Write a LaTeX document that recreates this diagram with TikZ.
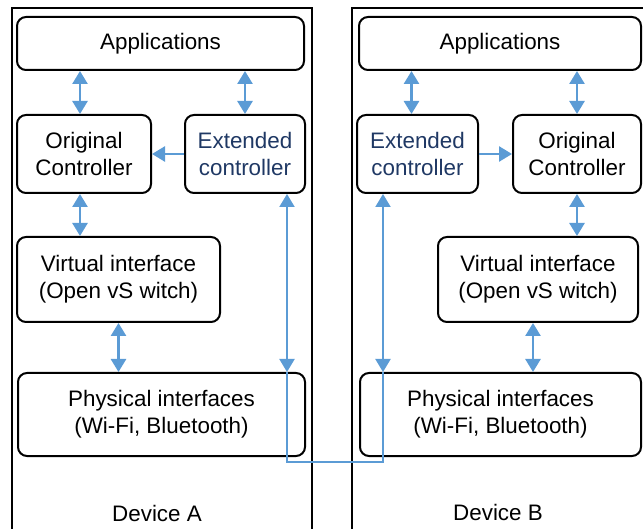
\documentclass[tikz,border=0pt]{standalone}
\usepackage{fontspec}
\setmainfont{Liberation Sans}
\usetikzlibrary{arrows.meta}

\definecolor{arrowblue}{HTML}{5B9BD5}
\definecolor{navy}{HTML}{1F3864}

\begin{document}
\begin{tikzpicture}[x=0.5pt,y=-0.5pt,>={Triangle[width=7.5pt,length=6.5pt]}]
  \tikzset{every node/.style={font=\fontsize{11.2}{13.5}\selectfont},
    layer/.style={draw,line width=1pt,rounded corners=4.5pt,align=center,inner sep=0pt},
    ext/.style={layer,text=navy},
    arr/.style={arrowblue,line width=1.3pt,<->},
    link/.style={arrowblue,line width=1pt},
    device/.style={draw,line width=0.75pt}}
  \clip (0,0) rectangle (643,529);
  % device frames
  \draw[device] (12,540) -- (12,8) -- (312,8) -- (312,540);
  \draw[device] (352,540) -- (352,8) -- (660,8) -- (660,540);
  \node (devA) at (157,513) {Device A};
  \node (devB) at (498,512) {Device B};
  % device A
  \node[layer,minimum width=143.5pt,minimum height=26.5pt] (appA) at (160.5,43.5) {Applications};
  \node[layer,minimum width=67pt,minimum height=39pt] (origA) at (84,154) {Original\\Controller};
  \node[ext,minimum width=60pt,minimum height=39pt] (extA) at (245,154) {Extended\\controller};
  \node[layer,minimum width=101.5pt,minimum height=42.5pt] (virtA) at (118.5,279.5) {Virtual interface\\(Open vS witch)};
  \node[layer,minimum width=143.5pt,minimum height=41.5pt] (phyA) at (161.5,414.5) {Physical interfaces\\(Wi-Fi, Bluetooth)};
  % device B
  \node[layer,minimum width=141pt,minimum height=26.5pt] (appB) at (500,43.5) {Applications};
  \node[ext,minimum width=60.5pt,minimum height=39pt] (extB) at (417.5,154) {Extended\\controller};
  \node[layer,minimum width=64pt,minimum height=39pt] (origB) at (577,154) {Original\\Controller};
  \node[layer,minimum width=100pt,minimum height=42.5pt] (virtB) at (538,279.5) {Virtual interface\\(Open vS witch)};
  \node[layer,minimum width=140.5pt,minimum height=41.5pt] (phyB) at (500.5,414.5) {Physical interfaces\\(Wi-Fi, Bluetooth)};
  % arrows inside A
  \draw[arr] ([xshift=-2pt]appA.south -| origA) -- ([xshift=-2pt]origA.north);
  \draw[arr] (appA.south -| extA) -- (extA.north);
  \draw[arrowblue,line width=1.3pt,->] (extA.west) -- (origA.east);
  \draw[arr] ([xshift=-2pt]origA.south) -- ([xshift=-2pt]origA.south |- virtA.north);
  \draw[arr] (virtA.south) -- (virtA.south |- phyA.north);
  % arrows inside B
  \draw[arr] ([xshift=-3pt]appB.south -| extB) -- ([xshift=-3pt]extB.north);
  \draw[arr] (appB.south -| origB) -- (origB.north);
  \draw[arrowblue,line width=1.3pt,->] (extB.east) -- (origB.west);
  \draw[arr] (origB.south) -- (origB.south |- virtB.north);
  \draw[arr] ([xshift=-2.5pt]virtB.south) -- ([xshift=-2.5pt]virtB.south |- phyB.north);
  % link between the devices
  \coordinate (jA) at (287,462);
  \coordinate (jB) at (383,462);
  \draw[link,<->] (extA.south -| jA) -- (phyA.north -| jA);
  \draw[link] (phyA.north -| jA) -- (jA) -- (jB) -- (phyB.north -| jB);
  \draw[link,<->] (phyB.north -| jB) -- (extB.south -| jB);
\end{tikzpicture}
\end{document}
